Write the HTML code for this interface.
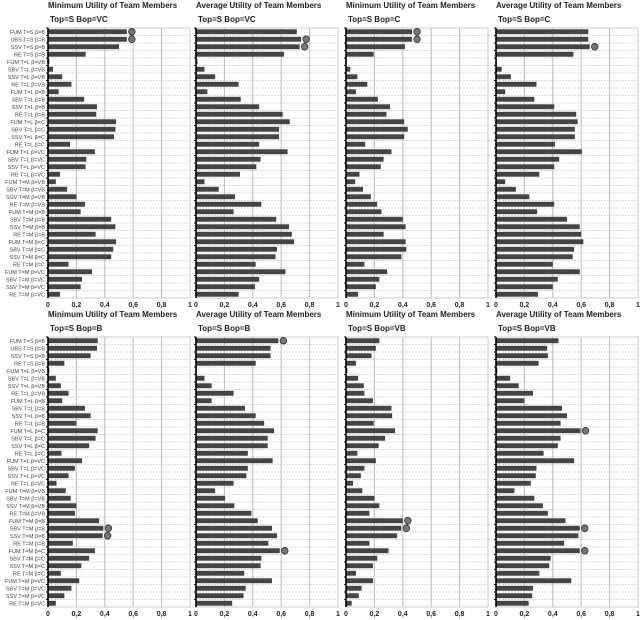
<!DOCTYPE html>
<html><head><meta charset="utf-8"><style>
body{margin:0;background:#fff;}
svg{display:block;font-family:"Liberation Sans",sans-serif;}
</style></head><body>
<svg id="c" width="640" height="620"></svg>
<script>
const categories=["FUM T=S β=B","UBS T=S β=B","SSV T=S β=B","RE T=S β=B",
"FUM T=L β=VB","SBV T=L β=VB","SSV T=L β=VB","RE T=L β=VB",
"FUM T=L β=B","SBV T=L β=B","SSV T=L β=B","RE T=L β=B",
"FUM T=L β=C","SBV T=L β=C","SSV T=L β=C","RE T=L β=C",
"FUM T=L β=VC","SBV T=L β=VC","SSV T=L β=VC","RE T=L β=VC",
"FUM T=M β=VB","SBV T=M β=VB","SSV T=M β=VB","RE T=M β=VB",
"FUM T=M β=B","SBV T=M β=B","SSV T=M β=B","RE T=M β=B",
"FUM T=M β=C","SBV T=M β=C","SSV T=M β=C","RE T=M β=C",
"FUM T=M β=VC","SBV T=M β=VC","SSV T=M β=VC","RE T=M β=VC"];
const tickLabels=["0","0,2","0,4","0,6","0,8","1"];
const tickValues=[0,0.2,0.4,0.6,0.8,1];
const titles=["Minimum Utility of Team Members","Average Utility of Team Members","Minimum Utility of Team Members","Average Utility of Team Members","Minimum Utility of Team Members","Average Utility of Team Members","Minimum Utility of Team Members","Average Utility of Team Members"];
const subtitles=["Top=S    Bop=VC","Top=S    Bop=VC","Top=S    Bop=C","Top=S    Bop=C","Top=S    Bop=B","Top=S    Bop=B","Top=S    Bop=VB","Top=S    Bop=VB"];
const minVC=[0.555,0.555,0.50,0.265,0.01,0.035,0.1,0.165,0.075,0.255,0.345,0.34,0.48,0.475,0.465,0.155,0.33,0.27,0.265,0.085,0.055,0.135,0.2,0.26,0.23,0.445,0.475,0.335,0.48,0.46,0.445,0.145,0.31,0.24,0.23,0.085];
const avgVC=[0.71,0.74,0.73,0.62,0.01,0.06,0.135,0.30,0.08,0.315,0.445,0.61,0.66,0.585,0.585,0.445,0.645,0.455,0.425,0.31,0.06,0.16,0.275,0.46,0.265,0.565,0.655,0.675,0.69,0.57,0.56,0.42,0.63,0.445,0.415,0.30];
const minC=[0.465,0.465,0.415,0.195,0.0,0.03,0.08,0.15,0.07,0.225,0.31,0.285,0.41,0.435,0.41,0.135,0.32,0.265,0.245,0.095,0.065,0.12,0.175,0.22,0.25,0.4,0.42,0.265,0.42,0.425,0.39,0.13,0.29,0.235,0.21,0.085];
const avgC=[0.65,0.65,0.66,0.545,0.0,0.04,0.105,0.285,0.065,0.27,0.41,0.565,0.575,0.555,0.555,0.415,0.605,0.445,0.41,0.305,0.065,0.14,0.235,0.41,0.29,0.5,0.59,0.6,0.615,0.55,0.54,0.4,0.59,0.435,0.4,0.295];
const minB=[0.35,0.345,0.30,0.115,0.01,0.055,0.09,0.145,0.10,0.26,0.30,0.20,0.35,0.335,0.29,0.095,0.24,0.19,0.145,0.06,0.125,0.16,0.2,0.19,0.36,0.39,0.385,0.175,0.33,0.29,0.235,0.09,0.22,0.165,0.115,0.055];
const avgB=[0.58,0.525,0.525,0.42,0.005,0.06,0.11,0.265,0.11,0.345,0.42,0.48,0.55,0.505,0.505,0.365,0.54,0.365,0.355,0.265,0.135,0.205,0.27,0.39,0.435,0.535,0.57,0.51,0.59,0.46,0.455,0.34,0.535,0.35,0.335,0.255];
const minVB=[0.235,0.21,0.18,0.07,0.01,0.085,0.125,0.13,0.19,0.32,0.325,0.195,0.345,0.275,0.23,0.08,0.21,0.13,0.105,0.05,0.115,0.2,0.235,0.165,0.4,0.39,0.36,0.165,0.3,0.22,0.19,0.07,0.19,0.11,0.09,0.04];
const avgVB=[0.44,0.36,0.365,0.30,0.01,0.1,0.16,0.26,0.2,0.465,0.5,0.455,0.595,0.455,0.435,0.335,0.55,0.285,0.28,0.245,0.13,0.27,0.33,0.365,0.49,0.59,0.58,0.48,0.59,0.385,0.375,0.305,0.53,0.26,0.255,0.23];
const markersVCmin=[0,1], markersVCavg=[1,2], markersCmin=[0,1], markersCavg=[2];
const markersBmin=[25,26], markersBavg=[0,28], markersVBmin=[24,25], markersVBavg=[12,25,28];

const series=[minVC,avgVC,minC,avgC,minB,avgB,minVB,avgVB];
const markers=[markersVCmin,markersVCavg,markersCmin,markersCavg,markersBmin,markersBavg,markersVBmin,markersVBavg];
const panelNames=["min-vc","avg-vc","min-c","avg-c","min-b","avg-b","min-vb","avg-vb"];
const NS="http://www.w3.org/2000/svg";
const svg=document.getElementById('c');
function mk(tag,attrs,parent,text){const e=document.createElementNS(NS,tag);for(const k in attrs)e.setAttribute(k,attrs[k]);if(text!==undefined)e.textContent=text;parent.appendChild(e);return e;}
const colX=[48,196,346,496], rowY=[28,337], W=142, H=270;
series.forEach((vals,p)=>{
  const x0=colX[p%4], y0=rowY[Math.floor(p/4)];
  const g=mk('g',{},svg);
  
  
  const xs=v=>x0+v*W;
  const n=categories.length, rh=H/n;
  const ys=i=>y0+i*rh;
  const t=mk('text',{x:x0,y:y0-20,'font-size':8,'font-weight':'bold',fill:'#222'},g,titles[p]);
  
  
  const st=mk('text',{x:x0+2,y:y0-6,'font-size':8,'font-weight':'bold',fill:'#222','xml:space':'preserve'},g,subtitles[p]);
  
  
  mk('rect',{x:x0,y:y0,width:W,height:H,fill:'#fff',stroke:'#ccc','stroke-width':1},g);
  for(let i=1;i<n;i++) mk('line',{x1:x0,x2:x0+W,y1:ys(i),y2:ys(i),stroke:'#ccc','stroke-width':0.8,'stroke-dasharray':'2,1'},g);
  tickValues.forEach((v,k)=>{
    if(v>0&&v<1) mk('line',{x1:xs(v),x2:xs(v),y1:y0,y2:y0+H,stroke:'#bbb','stroke-width':1},g);
    const tl=mk('text',{x:xs(v),y:y0+H+9,'font-size':7,'font-weight':'bold','text-anchor':'middle',fill:'#222'},g,tickLabels[k]);
    
    
  });
  vals.forEach((v,i)=>{
    const b=mk('rect',{x:x0,y:ys(i)+1.3,width:Math.max(0.8,xs(v)-x0),height:rh-2.6,fill:'#444'},g);
    
    
    mk('line',{x1:x0-2,x2:x0,y1:ys(i),y2:ys(i),stroke:'#000','stroke-width':1},g);
    if(p%4===0){
      const yl=mk('text',{x:x0-3,y:ys(i)+rh/2+2,'font-size':5.5,'text-anchor':'end',fill:'#444'},g,categories[i]);
      
      
    }
  });
  markers[p].forEach(i=>{
    const c=mk('circle',{cx:xs(vals[i])+5,cy:ys(i)+rh/2,r:3.3,fill:'#777',stroke:'#333','stroke-width':0.8},g);
    
    
  });
  mk('line',{x1:x0,x2:x0,y1:y0,y2:y0+H,stroke:'#000','stroke-width':1.6},g);
});
</script>
</body></html>
